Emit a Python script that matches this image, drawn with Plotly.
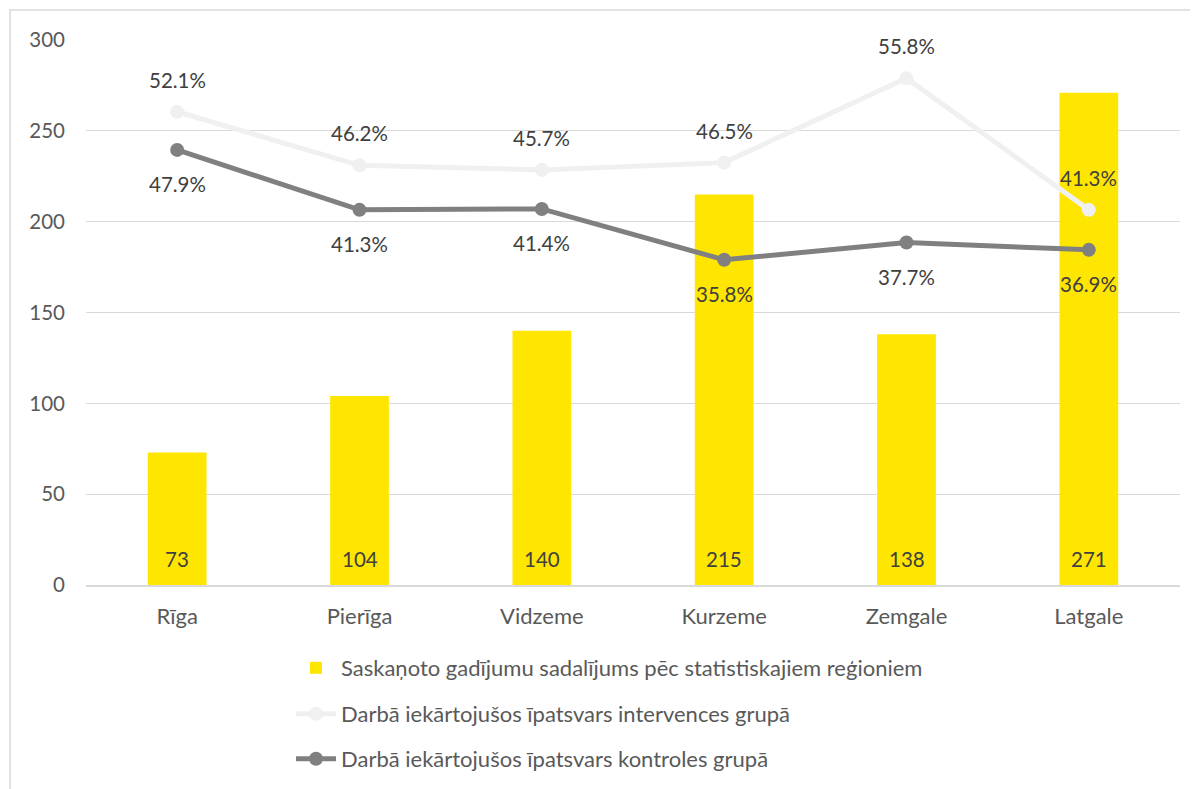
import plotly.graph_objects as go

regions = ["Rīga", "Pierīga", "Vidzeme", "Kurzeme", "Zemgale", "Latgale"]
cases = [73, 104, 140, 215, 138, 271]
intervention = [52.1, 46.2, 45.7, 46.5, 55.8, 41.3]
control = [47.9, 41.3, 41.4, 35.8, 37.7, 36.9]

name_bar = "Saskaņoto gadījumu sadalījums pēc statistiskajiem reģioniem"
name_int = "Darbā iekārtojušos īpatsvars intervences grupā"
name_ctl = "Darbā iekārtojušos īpatsvars kontroles grupā"

FONT = "Lato"
FS = 20.5
FS_TXT = 22
TXT = "#404040"
AX = "#595959"
YELLOW = "#FFE600"
LIGHT = "#F0F0F0"
DARK = "#808080"

fig = go.Figure()
fig.add_trace(go.Bar(x=regions, y=cases, name=name_bar, marker=dict(color=YELLOW, line=dict(width=0)),
                     legend="legend", hoverinfo="skip"))
fig.add_trace(go.Scatter(x=regions, y=intervention, name=name_int, mode="lines+markers", yaxis="y2",
                         line=dict(color=LIGHT, width=5), marker=dict(color=LIGHT, size=14),
                         legend="legend2"))
fig.add_trace(go.Scatter(x=regions, y=control, name=name_ctl, mode="lines+markers", yaxis="y2",
                         line=dict(color=DARK, width=5), marker=dict(color=DARK, size=14),
                         legend="legend3"))

annotations = []
for r, v in zip(regions, cases):
    annotations.append(dict(x=r, y=0, xref="x", yref="y", text=str(v), showarrow=False,
                            yanchor="middle", yshift=26, font=dict(family=FONT, size=FS, color=TXT)))
for r, v in zip(regions, intervention):
    annotations.append(dict(x=r, y=v, xref="x", yref="y2", text=f"{v:.1f}%", showarrow=False,
                            yanchor="middle", yshift=32, font=dict(family=FONT, size=FS, color=TXT)))
for r, v in zip(regions, control):
    annotations.append(dict(x=r, y=v, xref="x", yref="y2", text=f"{v:.1f}%", showarrow=False,
                            yanchor="middle", yshift=-34, font=dict(family=FONT, size=FS, color=TXT)))

legend_common = dict(xref="container", yref="container", x=283 / 1198, xanchor="left", yanchor="middle",
                     bgcolor="rgba(0,0,0,0)", font=dict(family=FONT, size=FS_TXT, color=AX),
                     itemwidth=40, orientation="v")

fig.update_layout(
    width=1198, height=789,
    margin=dict(l=78, r=26, t=32, b=212, autoexpand=False),
    paper_bgcolor="white", plot_bgcolor="white",
    font=dict(family=FONT, size=FS, color=AX),
    bargap=0.678,
    xaxis=dict(showgrid=False, showline=True, linecolor="#D9D9D9", linewidth=1.5, ticks="",
               tickangle=0, automargin=False,
               tickfont=dict(family=FONT, size=FS_TXT, color=AX), ticklabelstandoff=11),
    yaxis=dict(range=[0, 300], dtick=50, showgrid=True, gridcolor="#D9D9D9", gridwidth=1.3,
               zeroline=False, showline=False, ticks="", ticklabelstandoff=20, automargin=False,
               tickfont=dict(family=FONT, size=FS, color=AX)),
    yaxis2=dict(range=[0, 60], overlaying="y", side="right", visible=False),
    showlegend=True,
    legend=dict(legend_common, y=1 - 660 / 789),
    legend2=dict(legend_common, y=1 - 706 / 789),
    legend3=dict(legend_common, y=1 - 751 / 789),
    annotations=annotations,
    shapes=[dict(type="rect", xref="paper", yref="paper", x0=-0.0695, x1=1.04, y0=-0.45, y1=1.055,
                 line=dict(color="#D9D9D9", width=1.5), layer="below")],
)

fig.write_html("out.html")
